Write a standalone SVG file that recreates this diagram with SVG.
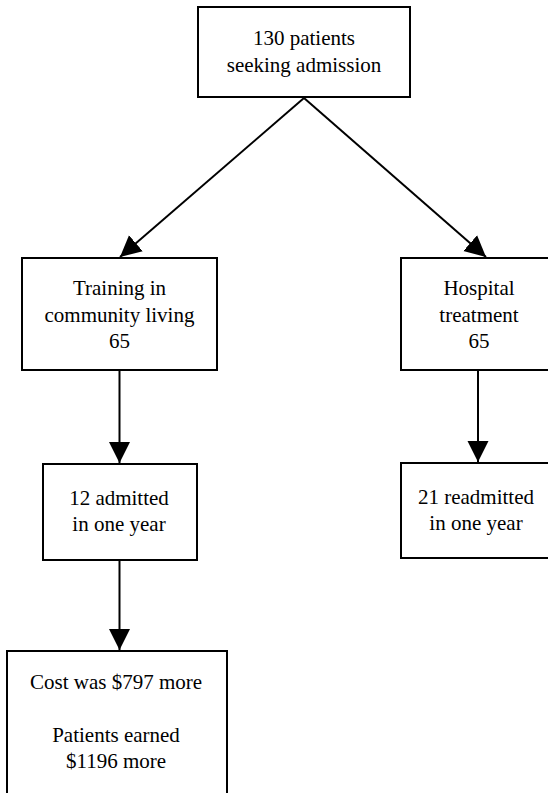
<svg xmlns="http://www.w3.org/2000/svg" width="548" height="793" viewBox="0 0 548 793">
<style>
.box{fill:#fff;stroke:#000;stroke-width:2}
.t{font-family:'Liberation Serif','Times New Roman',serif;font-size:21px;fill:#000;text-anchor:middle}
.c{stroke:#000;stroke-width:2;fill:none}
</style>
<defs>
<marker id="ah" markerUnits="userSpaceOnUse" markerWidth="22" markerHeight="22" viewBox="0 0 22 22" refX="21" refY="11" orient="auto">
<path d="M0,0.5 L21,11 L0,21.5 Z" fill="#000"/>
</marker>
</defs>
<rect width="548" height="793" fill="#fff"/>
<g id="connectors">
<line class="c" x1="304" y1="98" x2="120" y2="257" marker-end="url(#ah)"/>
<line class="c" x1="304" y1="98" x2="486" y2="257" marker-end="url(#ah)"/>
<line class="c" x1="119.5" y1="371" x2="119.5" y2="463" marker-end="url(#ah)"/>
<line class="c" x1="478" y1="371" x2="478" y2="462" marker-end="url(#ah)"/>
<line class="c" x1="119.5" y1="561" x2="119.5" y2="650" marker-end="url(#ah)"/>
</g>
<g id="n1">
<rect class="box" x="198" y="7" width="212" height="90"/>
<text class="t" x="304" y="45">130 patients</text>
<text class="t" x="304" y="72">seeking admission</text>
</g>
<g id="n2">
<rect class="box" x="22" y="258" width="195" height="112"/>
<text class="t" x="119.5" y="295">Training in</text>
<text class="t" x="119.5" y="322">community living</text>
<text class="t" x="119.5" y="348">65</text>
</g>
<g id="n3">
<rect class="box" x="401" y="258" width="156" height="112"/>
<text class="t" x="479" y="295">Hospital</text>
<text class="t" x="479" y="322">treatment</text>
<text class="t" x="479" y="348">65</text>
</g>
<g id="n4">
<rect class="box" x="43" y="464" width="154" height="96"/>
<text class="t" x="119" y="505">12 admitted</text>
<text class="t" x="119" y="531">in one year</text>
</g>
<g id="n5">
<rect class="box" x="401" y="463" width="156" height="95"/>
<text class="t" x="476" y="504">21 readmitted</text>
<text class="t" x="476" y="530">in one year</text>
</g>
<g id="n6">
<rect class="box" x="7" y="651" width="220" height="160"/>
<text class="t" x="116" y="689">Cost was $797 more</text>
<text class="t" x="116" y="742">Patients earned</text>
<text class="t" x="116" y="768">$1196 more</text>
</g>
</svg>
